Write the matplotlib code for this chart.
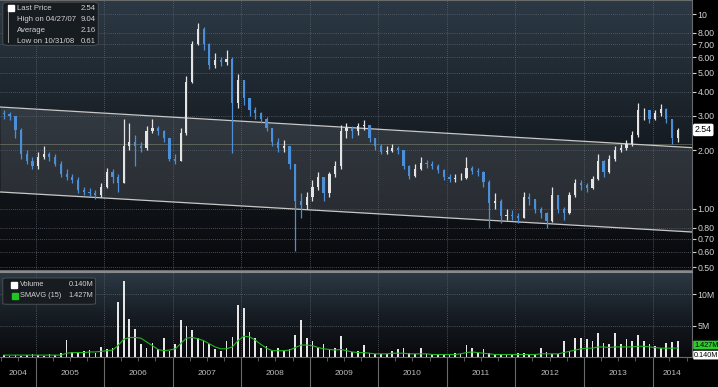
import numpy as np
import pandas as pd
import matplotlib
matplotlib.use('Agg')
import matplotlib.pyplot as plt
import matplotlib.dates as mdates
from matplotlib.colors import LinearSegmentedColormap
from matplotlib.patches import FancyBboxPatch

plt.rcParams['font.family'] = ['Liberation Sans', 'DejaVu Sans']

# monthly bars, Jul 2004 .. May 2014
months = pd.date_range('2004-07-01', periods=119, freq='MS') + pd.Timedelta(days=14)
first_open = 3.10

close = [3.05, 3.0, 2.55, 1.9, 1.75, 1.65, 1.85, 1.9, 1.85, 1.7,
         1.5, 1.45, 1.4, 1.25, 1.22, 1.2, 1.18, 1.3, 1.55, 1.45,
         1.35, 2.1, 2.2, 2.1, 2.05, 2.5, 2.6, 2.5, 2.3, 1.8,
         1.76, 2.45, 4.5, 7.0, 8.4, 7.0, 5.5, 5.8, 5.7, 5.9,
         3.5, 4.6, 3.7, 3.2, 3.1, 2.9, 2.6, 2.2, 2.05, 2.1,
         1.7, 1.1, 1.05, 1.15, 1.3, 1.45, 1.2, 1.5, 1.65, 2.5,
         2.6, 2.5, 2.65, 2.7, 2.3, 2.1, 1.95, 1.98, 2.05, 2.0,
         1.65, 1.48, 1.6, 1.72, 1.7, 1.65, 1.58, 1.45, 1.42, 1.44,
         1.44, 1.62, 1.56, 1.55, 1.38, 1.07, 1.1, 0.92, 0.93, 0.92,
         0.9, 1.15, 1.12, 1.0, 0.95, 0.87, 1.18, 1.0, 0.95, 1.18,
         1.35, 1.32, 1.28, 1.42, 1.75, 1.55, 1.8, 2.0, 2.05, 2.15,
         2.4, 3.2, 3.2, 2.9, 3.1, 3.25, 2.9, 2.3, 2.54]
high = [3.2, 3.15, 3.0, 2.6, 2.0, 1.85, 1.95, 2.1, 1.95, 1.9,
        1.75, 1.6, 1.5, 1.45, 1.3, 1.28, 1.25, 1.35, 1.62, 1.6,
        1.5, 2.9, 2.75, 2.4, 2.2, 2.65, 2.9, 2.65, 2.55, 2.3,
        1.9, 2.6, 4.8, 7.3, 9.04, 8.6, 7.1, 6.3, 6.0, 6.5,
        6.0, 4.9, 4.6, 3.7, 3.35, 3.15, 2.95, 2.6, 2.3, 2.25,
        2.1, 1.7, 1.2, 1.22, 1.4, 1.55, 1.45, 1.55, 1.75, 2.7,
        2.75, 2.65, 2.75, 2.85, 2.7, 2.3, 2.15, 2.1, 2.15, 2.1,
        2.0, 1.68, 1.7, 1.85, 1.78, 1.75, 1.7, 1.6, 1.5, 1.5,
        1.52, 1.85, 1.65, 1.62, 1.56, 1.4, 1.2, 1.12, 1.0, 0.98,
        0.95, 1.22, 1.2, 1.12, 1.02, 0.96, 1.3, 1.18, 1.02, 1.22,
        1.42, 1.4, 1.35, 1.48, 1.9, 1.78, 1.88, 2.1, 2.15, 2.25,
        2.5, 3.5, 3.3, 3.2, 3.2, 3.45, 3.3, 2.9, 2.6]
low = [2.9, 2.85, 2.3, 1.8, 1.7, 1.6, 1.6, 1.8, 1.75, 1.65,
       1.45, 1.4, 1.35, 1.2, 1.18, 1.16, 1.12, 1.15, 1.28, 1.35,
       1.22, 1.35, 2.0, 1.65, 1.95, 2.0, 2.45, 2.4, 2.2, 1.75,
       1.7, 1.75, 2.4, 4.4, 6.9, 6.5, 5.2, 5.3, 5.4, 5.5,
       1.94, 3.3, 3.4, 3.0, 2.9, 2.75, 2.5, 2.1, 1.95, 1.95,
       1.6, 0.61, 0.9, 1.0, 1.1, 1.25, 1.1, 1.15, 1.45, 1.6,
       2.3, 2.3, 2.4, 2.55, 2.2, 2.0, 1.9, 1.9, 1.95, 1.9,
       1.6, 1.42, 1.45, 1.58, 1.62, 1.6, 1.52, 1.4, 1.38, 1.38,
       1.4, 1.42, 1.5, 1.48, 1.3, 0.8, 1.0, 0.85, 0.88, 0.88,
       0.85, 0.9, 1.05, 0.95, 0.9, 0.8, 0.86, 0.95, 0.88, 0.94,
       1.15, 1.25, 1.22, 1.26, 1.4, 1.45, 1.52, 1.75, 1.95, 2.0,
       2.1, 2.35, 2.85, 2.75, 2.85, 3.0, 2.75, 2.15, 2.2]

# volume in millions
volume = [0.3, 0.2, 0.3, 0.2, 0.3, 0.4, 0.3, 0.2, 0.4, 0.3,
          0.6, 2.7, 0.8, 0.6, 0.9, 1.1, 0.7, 1.6, 1.3, 1.4,
          8.8, 12.0, 6.1, 4.4, 2.0, 1.5, 2.3, 1.2, 3.0, 1.0,
          2.0, 5.8, 5.0, 4.3, 3.0, 2.5, 2.0, 1.2, 1.0, 2.5,
          3.2, 8.3, 7.8, 4.0, 3.0, 1.5, 1.8, 1.0, 1.5, 1.0,
          1.2, 3.5, 5.9, 3.0, 2.5, 1.5, 2.0, 1.2, 1.5, 3.3,
          1.5, 0.8, 1.0, 1.9, 0.6, 0.5, 0.4, 0.5, 1.0, 1.3,
          1.5, 0.6, 0.5, 1.4, 0.5, 0.4, 0.3, 0.5, 0.3, 0.6,
          0.5, 1.9, 1.5, 0.7, 1.2, 0.6, 0.4, 0.3, 0.4, 0.3,
          0.6, 0.7, 0.3, 0.4, 1.4, 0.8, 0.5, 0.4, 2.5, 1.0,
          3.0, 3.0, 2.8, 2.5, 3.8, 2.2, 2.0, 3.8, 2.0, 2.8,
          2.5, 3.5, 2.5, 2.0, 1.8, 1.5, 2.2, 2.4, 2.5]
smavg = [0.3, 0.3, 0.3, 0.3, 0.3, 0.3, 0.3, 0.3, 0.3, 0.3,
         0.3, 0.6, 0.7, 0.7, 0.7, 0.8, 0.8, 0.9, 1.0, 1.1,
         1.8, 2.8, 3.1, 3.1, 3.0, 2.4, 1.8, 1.2, 1.0, 1.1,
         1.3, 2.2, 3.0, 3.1, 2.9, 2.6, 2.1, 1.6, 1.3, 1.3,
         1.6, 2.6, 3.3, 3.2, 2.7, 2.0, 1.4, 1.0, 1.0, 1.0,
         1.1, 1.5, 1.9, 1.9, 1.8, 1.5, 1.3, 1.2, 1.1, 1.2,
         1.0, 0.8, 0.7, 0.7, 0.6, 0.5, 0.5, 0.5, 0.6, 0.6,
         0.6, 0.5, 0.5, 0.5, 0.5, 0.4, 0.4, 0.4, 0.4, 0.4,
         0.5, 0.7, 0.8, 0.7, 0.6, 0.5, 0.4, 0.4, 0.4, 0.4,
         0.4, 0.4, 0.4, 0.4, 0.5, 0.5, 0.5, 0.5, 0.7, 0.9,
         1.1, 1.3, 1.4, 1.4, 1.6, 1.6, 1.5, 1.6, 1.6, 1.6,
         1.6, 1.7, 1.7, 1.6, 1.5, 1.4, 1.4, 1.4, 1.43]

channel_dates = pd.to_datetime(['2004-06-25', '2014-07-30'])
upper_channel = [3.33, 2.06]
lower_channel = [1.22, 0.76]
average_price = 2.16

price_ticks = [0.5, 0.6, 0.7, 0.8, 1, 2, 3, 4, 5, 6, 7, 8, 10]
price_tick_labels = ['0.50', '0.60', '0.70', '0.80', '1.00', '2.00', '3.00',
                     '4.00', '5.00', '6.00', '7.00', '8.00', '10']
vol_ticks = [5, 10]
vol_tick_labels = ['5M', '10M']
years = list(range(2004, 2015))

legend_rows = [('Last Price', '2.54'), ('High on 04/27/07', '9.04'),
               ('Average', '2.16'), ('Low on 10/31/08', '0.61')]
vol_legend_rows = [('Volume', '0.140M'), ('SMAVG (15)', '1.427M')]

txt = '#d2d2d2'
grid_c = '#5c636b'
up_c = '#e4e4e4'
down_c = '#4a8fd8'
fs = 5.6

fig = plt.figure(figsize=(7.18, 3.87), dpi=100, facecolor='black')
ax = fig.add_axes([0.0, 1 - 270 / 387, 692 / 718, 270 / 387])
axv = fig.add_axes([0.0, 1 - 357 / 387, 692 / 718, 85 / 387], sharex=ax)

bg = LinearSegmentedColormap.from_list('bg', ['#2c3944', '#171d24', '#08090c'])
for a in (ax, axv):
    a.set_facecolor('black')
    a.imshow(np.linspace(0, 1, 256).reshape(-1, 1), cmap=bg, aspect='auto',
             extent=[0, 1, 0, 1], transform=a.transAxes, zorder=0)
    for s in a.spines.values():
        s.set_color('#6a6a6a')
        s.set_linewidth(0.8)
    a.spines['left'].set_visible(False)

xlim = (pd.Timestamp('2004-06-25'), pd.Timestamp('2014-07-30'))

# ---- price panel
ax.set_yscale('log')
ax.set_ylim(0.485, 11.8)
ax.set_xlim(*xlim)

ax.fill_between(channel_dates, lower_channel, upper_channel, color='#8a9098',
                alpha=0.22, lw=0, zorder=1)
ax.plot(channel_dates, upper_channel, color='#c8c8c8', lw=0.9, zorder=3)
ax.plot(channel_dates, lower_channel, color='#c8c8c8', lw=0.9, zorder=3)
ax.axhline(average_price, color='#8a9078', lw=0.6, alpha=0.6, zorder=2)

opens = [first_open] + close[:-1]
cols = [up_c if c >= o else down_c for o, c in zip(opens, close)]
ax.vlines(months, low, high, colors=cols, lw=0.9, zorder=4)
ax.bar(months, np.array(close) - np.array(opens), bottom=opens, width=12,
       color=cols, lw=0, zorder=5)

ax.yaxis.tick_right()
ax.set_yticks(price_ticks)
ax.set_yticklabels(price_tick_labels)
ax.yaxis.set_minor_locator(matplotlib.ticker.NullLocator())
ax.tick_params(axis='y', colors=txt, labelsize=6.3, length=3, width=0.8, pad=1)
ax.tick_params(axis='x', which='both', length=0, labelbottom=False)
for t in price_ticks:
    ax.axhline(t, color=grid_c, lw=0.6, ls=(0, (1, 1.5)), zorder=1.5)

ax.text(1.004, 2.54, '2.54', transform=ax.get_yaxis_transform(), fontsize=6.3,
        color='black', va='center', ha='left', zorder=10, clip_on=False,
        bbox=dict(boxstyle='round,pad=0.2', fc='white', ec='none'))

# legend box
ax.add_patch(FancyBboxPatch((0.004, 0.832), 0.138, 0.16, transform=ax.transAxes,
                            boxstyle='round,pad=0.0,rounding_size=0.008',
                            fc='#171c21', ec='#4a4f55', lw=0.7, zorder=8))
for i, (lab, val) in enumerate(legend_rows):
    yy = 0.970 - i * 0.041
    ax.text(0.024, yy, lab, transform=ax.transAxes, fontsize=fs, color=txt,
            va='center', zorder=9)
    ax.text(0.138, yy, val, transform=ax.transAxes, fontsize=fs, color=txt,
            va='center', ha='right', zorder=9)
ax.plot([0.016], [0.970], marker='s', ms=4, color='white', transform=ax.transAxes,
        zorder=9, clip_on=False)
ax.plot([0.012, 0.012], [0.845, 0.955], color='#aaaaaa', lw=0.6,
        transform=ax.transAxes, zorder=9)

# ---- volume panel
axv.set_ylim(0, 13.5)
axv.bar(months, volume, width=9, color='#e6e6e6', lw=0, zorder=3)
axv.plot(months, smavg, color='#22b422', lw=0.8, zorder=4)
axv.yaxis.tick_right()
axv.set_yticks(vol_ticks)
axv.set_yticklabels(vol_tick_labels)
axv.tick_params(axis='y', colors=txt, labelsize=6.3, length=3, width=0.8, pad=1)
for t in vol_ticks:
    axv.axhline(t, color=grid_c, lw=0.6, ls=(0, (1, 1.5)), zorder=1.5)
axv.spines['top'].set_color('#8a8a8a')
axv.spines['top'].set_linewidth(1.5)

axv.text(1.003, 1.9, '1.427M', transform=axv.get_yaxis_transform(), fontsize=5.2,
         color='black', va='center', ha='left', zorder=10, clip_on=False,
         bbox=dict(boxstyle='round,pad=0.12', fc='#2ecc2e', ec='none'))
axv.text(1.003, 0.3, '0.140M', transform=axv.get_yaxis_transform(), fontsize=5.2,
         color='black', va='center', ha='left', zorder=11, clip_on=False,
         bbox=dict(boxstyle='round,pad=0.12', fc='white', ec='none'))

axv.add_patch(FancyBboxPatch((0.004, 0.62), 0.134, 0.31, transform=axv.transAxes,
                             boxstyle='round,pad=0.0,rounding_size=0.008',
                             fc='#171c21', ec='#4a4f55', lw=0.7, zorder=8))
for i, (lab, val) in enumerate(vol_legend_rows):
    yy = 0.85 - i * 0.13
    axv.text(0.029, yy, lab, transform=axv.transAxes, fontsize=5.3, color=txt,
             va='center', zorder=9)
    axv.text(0.135, yy, val, transform=axv.transAxes, fontsize=5.3, color=txt,
             va='center', ha='right', zorder=9)
axv.plot([0.02], [0.85], marker='s', ms=4, color='white', transform=axv.transAxes,
         zorder=9, clip_on=False)
axv.plot([0.022], [0.72], marker='s', ms=4, color='#22c422', transform=axv.transAxes,
         zorder=9, clip_on=False)

# year grid + axis
year_starts = [pd.Timestamp(f'{y}-01-01') for y in years[1:]]
for a in (ax, axv):
    for d in year_starts:
        a.axvline(d, color=grid_c, lw=0.6, ls=(0, (1, 1.5)), zorder=1.5)

axv.xaxis.set_major_locator(mdates.YearLocator())
axv.xaxis.set_minor_locator(mdates.MonthLocator(bymonth=[4, 7, 10]))
axv.tick_params(axis='x', which='major', length=30, width=0.8, color='#6a6a6a',
                labelbottom=False)
axv.tick_params(axis='x', which='minor', length=3, width=0.6, color='#6a6a6a')

label_pos = [pd.Timestamp('2004-09-28')] + \
            [pd.Timestamp(f'{y}-07-01') for y in years[1:-1]] + [pd.Timestamp('2014-04-15')]
for y, d in zip(years, label_pos):
    axv.text(d, -0.19, str(y), transform=axv.get_xaxis_transform(), fontsize=6,
             color='#bdbdbd', ha='center', va='center', clip_on=False)

fig.savefig('out.png', dpi=100, facecolor='black')
